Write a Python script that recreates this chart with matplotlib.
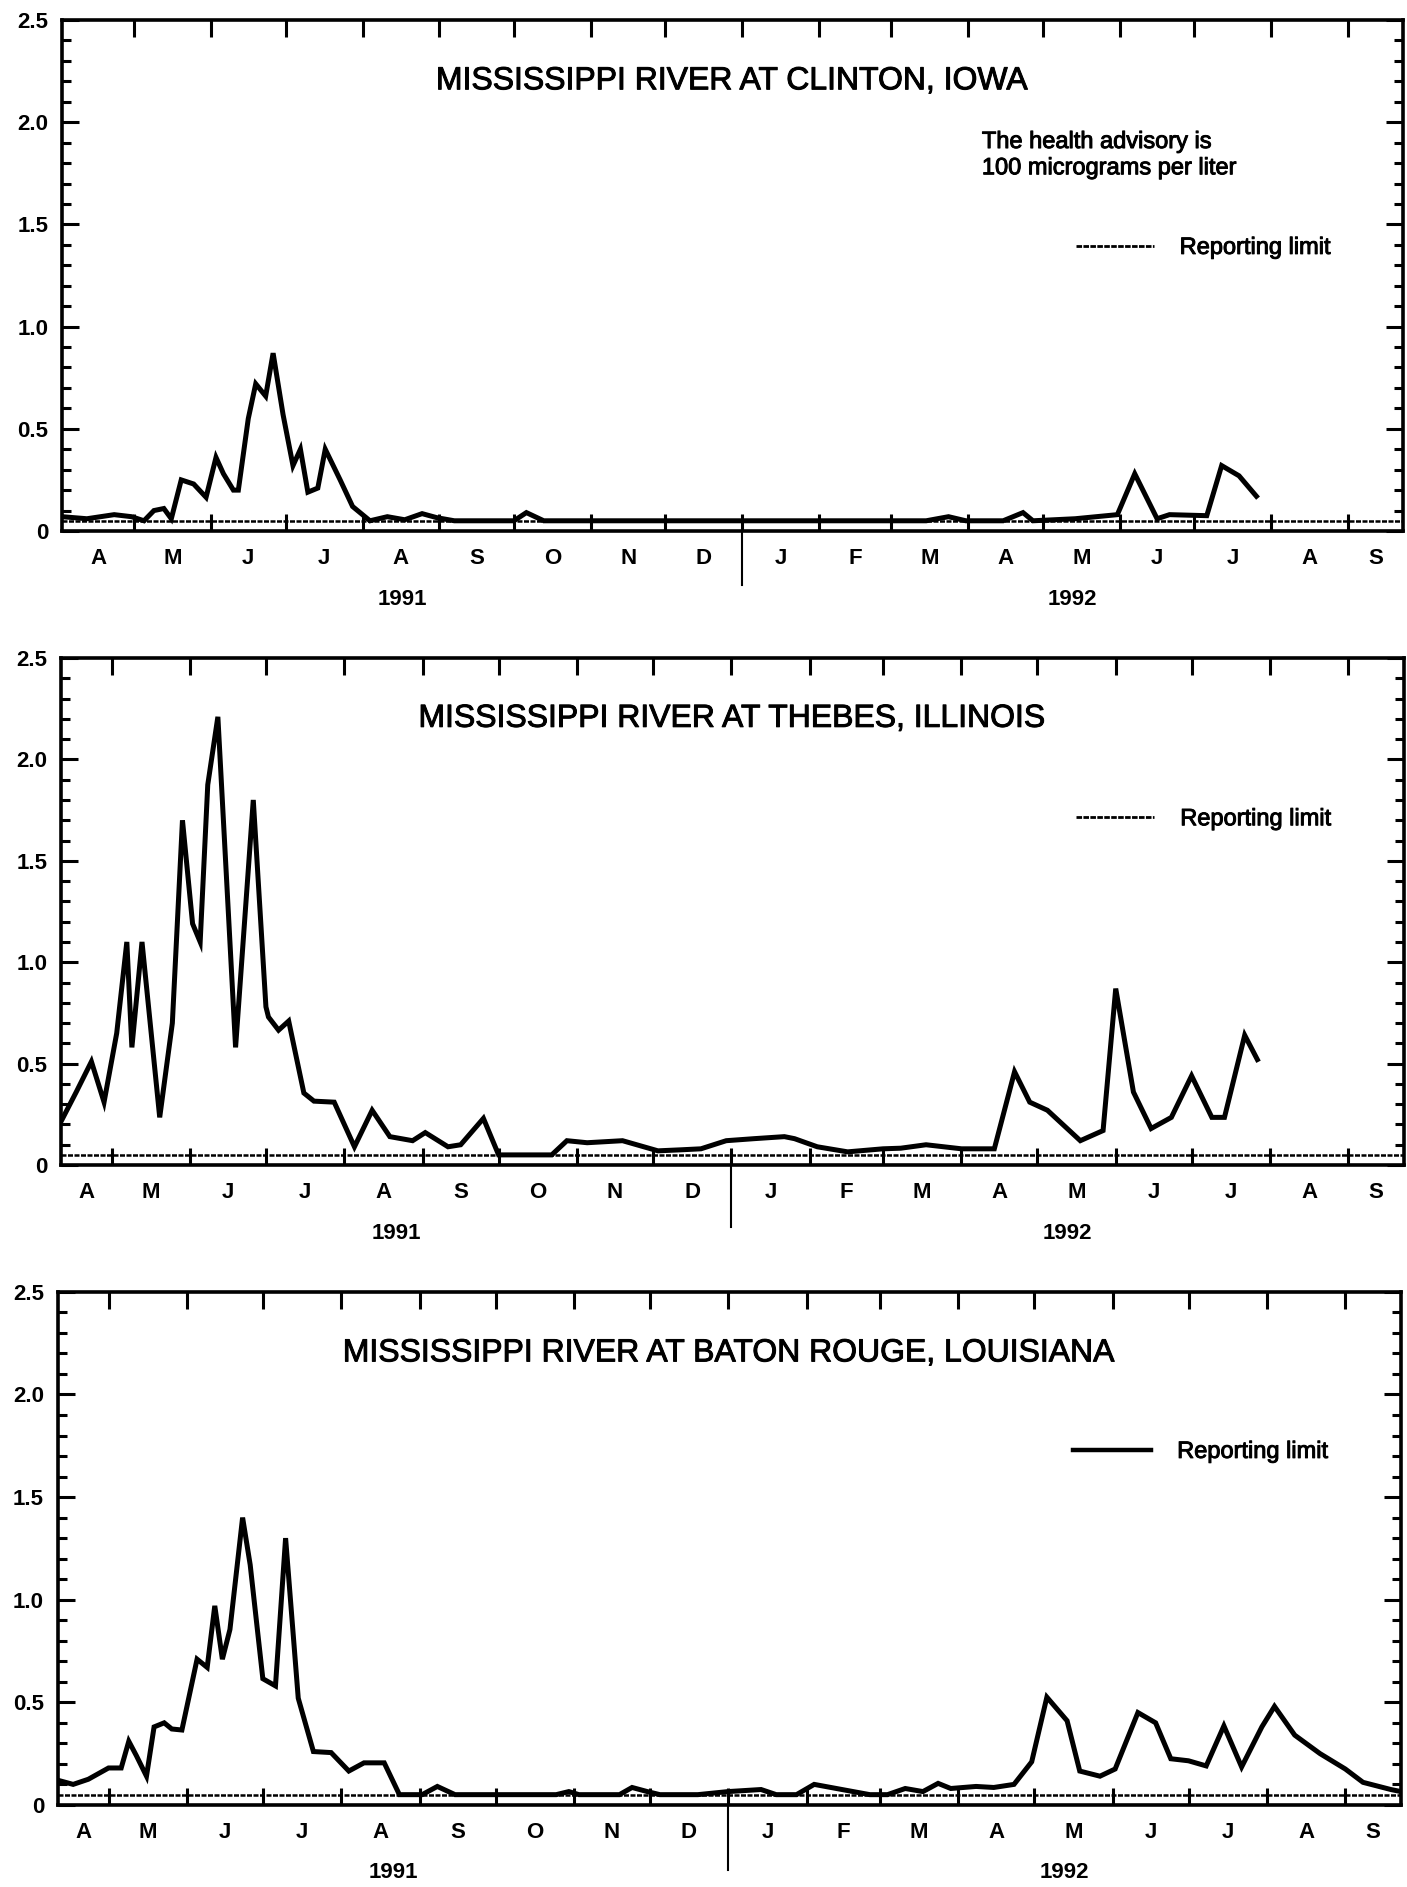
import numpy as np
import matplotlib
matplotlib.use('Agg')
import matplotlib.pyplot as plt
import matplotlib.dates as mdates
import matplotlib.transforms as mtransforms
import matplotlib.patheffects as pe
from matplotlib.lines import Line2D
from matplotlib.ticker import MultipleLocator

plt.rcParams['font.family'] = ['Liberation Sans', 'DejaVu Sans']

# atrazine-type concentrations, micrograms per liter
clinton_dates = [
    '1991-04-02', '1991-04-12', '1991-04-23', '1991-04-30', '1991-05-05', '1991-05-09',
    '1991-05-13', '1991-05-16', '1991-05-20', '1991-05-25', '1991-05-30', '1991-06-03',
    '1991-06-06', '1991-06-10', '1991-06-12', '1991-06-16', '1991-06-19', '1991-06-23',
    '1991-06-26', '1991-06-30', '1991-07-04', '1991-07-07', '1991-07-10', '1991-07-14',
    '1991-07-17', '1991-07-23', '1991-07-28', '1991-07-31', '1991-08-04', '1991-08-11',
    '1991-08-18', '1991-08-25', '1991-08-31', '1991-09-07', '1991-10-01', '1991-10-06',
    '1991-10-13', '1991-11-15', '1991-12-15', '1992-01-15', '1992-02-15', '1992-03-15',
    '1992-03-24', '1992-03-31', '1992-04-15', '1992-04-23', '1992-04-27', '1992-05-14',
    '1992-05-31', '1992-06-07', '1992-06-16', '1992-06-21', '1992-07-06', '1992-07-12',
    '1992-07-19', '1992-07-26']
clinton_values = [
    0.07, 0.06, 0.08, 0.07, 0.05, 0.10,
    0.11, 0.06, 0.25, 0.23, 0.165, 0.36,
    0.28, 0.20, 0.20, 0.55, 0.72, 0.66,
    0.87, 0.57, 0.32, 0.40, 0.19, 0.21,
    0.40, 0.25, 0.12, 0.09, 0.05, 0.07,
    0.055, 0.085, 0.065, 0.05, 0.05, 0.09,
    0.05, 0.05, 0.05, 0.05, 0.05, 0.05,
    0.07, 0.05, 0.05, 0.09, 0.05, 0.06,
    0.08, 0.28, 0.06, 0.08, 0.075, 0.32,
    0.27, 0.17]

thebes_dates = [
    '1991-04-11', '1991-04-17', '1991-04-23', '1991-04-28', '1991-05-03', '1991-05-07',
    '1991-05-09', '1991-05-13', '1991-05-20', '1991-05-25', '1991-05-29', '1991-06-02',
    '1991-06-05', '1991-06-08', '1991-06-12', '1991-06-19', '1991-06-26', '1991-07-01',
    '1991-07-02', '1991-07-06', '1991-07-10', '1991-07-16', '1991-07-20', '1991-07-28',
    '1991-08-05', '1991-08-12', '1991-08-19', '1991-08-28', '1991-09-02', '1991-09-11',
    '1991-09-16', '1991-09-25', '1991-10-01', '1991-10-22', '1991-10-28', '1991-11-05',
    '1991-11-19', '1991-12-03', '1991-12-12', '1991-12-20', '1991-12-30', '1992-01-10',
    '1992-01-22', '1992-01-26', '1992-02-04', '1992-02-16', '1992-03-01', '1992-03-08',
    '1992-03-18', '1992-04-01', '1992-04-14', '1992-04-22', '1992-04-28', '1992-05-05',
    '1992-05-18', '1992-05-27', '1992-06-01', '1992-06-08', '1992-06-15', '1992-06-23',
    '1992-07-01', '1992-07-09', '1992-07-14', '1992-07-22', '1992-07-27']
thebes_values = [
    0.215, 0.36, 0.51, 0.31, 0.65, 1.10,
    0.58, 1.10, 0.235, 0.70, 1.70, 1.19,
    1.10, 1.875, 2.21, 0.58, 1.80, 0.78,
    0.73, 0.665, 0.71, 0.355, 0.315, 0.31,
    0.09, 0.27, 0.14, 0.12, 0.16, 0.09,
    0.10, 0.23, 0.05, 0.05, 0.12, 0.11,
    0.12, 0.07, 0.075, 0.08, 0.12, 0.13,
    0.14, 0.13, 0.09, 0.065, 0.08, 0.083,
    0.10, 0.08, 0.08, 0.46, 0.31, 0.27,
    0.12, 0.17, 0.87, 0.36, 0.18, 0.235,
    0.44, 0.235, 0.235, 0.64, 0.52]

baton_rouge_dates = [
    '1991-04-11', '1991-04-17', '1991-04-23', '1991-05-01', '1991-05-06', '1991-05-09',
    '1991-05-12', '1991-05-16', '1991-05-19', '1991-05-23', '1991-05-26', '1991-05-30',
    '1991-06-01', '1991-06-05', '1991-06-09', '1991-06-12', '1991-06-15', '1991-06-18',
    '1991-06-23', '1991-06-26', '1991-07-01', '1991-07-06', '1991-07-10', '1991-07-15',
    '1991-07-21', '1991-07-28', '1991-08-04', '1991-08-10', '1991-08-18', '1991-08-24',
    '1991-09-02', '1991-09-08', '1991-09-15', '1991-10-25', '1991-10-30', '1991-11-03',
    '1991-11-19', '1991-11-24', '1991-11-30', '1991-12-05', '1991-12-20', '1992-01-01',
    '1992-01-14', '1992-01-20', '1992-01-28', '1992-02-04', '1992-02-15', '1992-02-26',
    '1992-03-04', '1992-03-11', '1992-03-18', '1992-03-24', '1992-03-29', '1992-04-08',
    '1992-04-15', '1992-04-23', '1992-04-30', '1992-05-06', '1992-05-14', '1992-05-19',
    '1992-05-27', '1992-06-02', '1992-06-11', '1992-06-18', '1992-06-24', '1992-07-01',
    '1992-07-08', '1992-07-15', '1992-07-22', '1992-07-30', '1992-08-04', '1992-08-12',
    '1992-08-22', '1992-09-01', '1992-09-08', '1992-09-19', '1992-09-23']
baton_rouge_values = [
    0.12, 0.10, 0.125, 0.18, 0.18, 0.31,
    0.24, 0.14, 0.38, 0.40, 0.37, 0.365,
    0.48, 0.71, 0.67, 0.97, 0.71, 0.855,
    1.40, 1.17, 0.615, 0.58, 1.30, 0.52,
    0.26, 0.255, 0.165, 0.205, 0.205, 0.05,
    0.05, 0.09, 0.05, 0.05, 0.065, 0.05,
    0.05, 0.085, 0.065, 0.05, 0.05, 0.065,
    0.075, 0.05, 0.05, 0.10, 0.075, 0.05,
    0.05, 0.08, 0.065, 0.105, 0.08, 0.09,
    0.085, 0.10, 0.21, 0.525, 0.41, 0.165,
    0.14, 0.175, 0.45, 0.40, 0.225, 0.215,
    0.19, 0.385, 0.185, 0.38, 0.48, 0.34,
    0.25, 0.175, 0.11, 0.075, 0.065]

titles = ['MISSISSIPPI RIVER AT CLINTON, IOWA',
          'MISSISSIPPI RIVER AT THEBES, ILLINOIS',
          'MISSISSIPPI RIVER AT BATON ROUGE, LOUISIANA']
start_dates = ['1991-04-02', '1991-04-11', '1991-04-11']
end_date = '1992-09-23'
month_letters = 'JFMAMJJASOND'
year_labels = ['1991', '1992']
reporting_limit = 0.05
advisory_text = 'The health advisory is\n100 micrograms per liter'

fig = plt.figure(figsize=(14.07, 18.87), dpi=100)
rects = [[0.0441, 0.7186, 0.953, 0.2708],
         [0.0434, 0.3826, 0.9545, 0.2687],
         [0.0412, 0.0435, 0.9545, 0.2719]]
key_y = [0.554, 0.682, 0.688]
key_styles = [dict(lw=2, ls=(0, (2, 0.5))), dict(lw=2, ls=(0, (2, 0.5))), dict(lw=3.2)]
divider_len = [0.105, 0.122, 0.127]

# slightly heavier strokes for the regular-weight lettering
heavy = [pe.withStroke(linewidth=0.7, foreground='black')]

series = [(clinton_dates, clinton_values),
          (thebes_dates, thebes_values),
          (baton_rouge_dates, baton_rouge_values)]

months = np.arange('1991-04', '1992-11', dtype='datetime64[M]')
month_edges = mdates.date2num(months.astype('datetime64[D]'))

for i, (dates, values) in enumerate(series):
    ax = fig.add_axes(rects[i])
    x = mdates.datestr2num(dates)
    ax.plot(x, values, color='black', lw=3.6, solid_joinstyle='miter', zorder=3)
    ax.axhline(reporting_limit, color='black', lw=1.8, ls=(0, (2, 0.6)), zorder=2)

    x0 = mdates.datestr2num(start_dates[i])
    x1 = mdates.datestr2num(end_date)
    ax.set_xlim(x0, x1)
    ax.set_ylim(0, 2.5)

    # month boundaries as ticks, letters centred on the visible part of each month
    ax.set_xticks([e for e in month_edges if x0 < e < x1])
    ax.set_xticklabels([])
    for m, a, b in zip(months[:-1], month_edges[:-1], month_edges[1:]):
        lo, hi = max(a, x0), min(b, x1)
        if hi - lo < 3:
            continue
        ax.annotate(month_letters[m.astype(int) % 12], ((lo + hi) / 2, 0),
                    xycoords=('data', 'axes fraction'), xytext=(0, -20),
                    textcoords='offset points', ha='center', va='center',
                    fontsize=16, fontweight='bold')

    for yl in year_labels:
        lo = max(mdates.datestr2num(yl + '-01-01'), x0)
        hi = min(mdates.datestr2num(str(int(yl) + 1) + '-01-01'), x1)
        ax.annotate(yl, ((lo + hi) / 2, 0), xycoords=('data', 'axes fraction'),
                    xytext=(0, -49), textcoords='offset points',
                    ha='center', va='center', fontsize=16, fontweight='bold')

    trans = mtransforms.blended_transform_factory(ax.transData, ax.transAxes)
    xd = mdates.datestr2num('1992-01-01')
    ax.plot([xd, xd], [0, -divider_len[i]], color='black', lw=1.5,
            transform=trans, clip_on=False)

    ax.yaxis.set_major_locator(MultipleLocator(0.5))
    ax.yaxis.set_minor_locator(MultipleLocator(0.1))
    ax.set_yticks([0, 0.5, 1.0, 1.5, 2.0, 2.5])
    ax.set_yticklabels(['0', '0.5', '1.0', '1.5', '2.0', '2.5'],
                       fontweight='bold', fontsize=16)

    ax.tick_params(axis='both', which='both', direction='in',
                   top=True, right=True, width=2.2)
    ax.tick_params(axis='both', which='major', length=12)
    ax.tick_params(axis='y', which='major', pad=10)
    ax.tick_params(axis='y', which='minor', length=6.5)
    ax.tick_params(axis='x', which='minor', bottom=False, top=False)
    for sp in ax.spines.values():
        sp.set_linewidth(2.6)

    ax.text(0.5, 0.88, titles[i], transform=ax.transAxes, ha='center',
            va='center', fontsize=23, path_effects=heavy)
    if i == 0:
        ax.text(0.686, 0.7355, advisory_text, transform=ax.transAxes,
                ha='left', va='center', fontsize=17, linespacing=1.25,
                path_effects=heavy)

    key = Line2D([], [], color='black', **key_styles[i])
    leg = ax.legend(handles=[key], labels=['Reporting limit'], loc='center left',
                    bbox_to_anchor=(0.756, key_y[i]), frameon=False, fontsize=17,
                    handlelength=3.3, handletextpad=1.1, borderpad=0, borderaxespad=0)
    for t in leg.get_texts():
        t.set_path_effects(heavy)

fig.savefig('out.png', dpi=100)
